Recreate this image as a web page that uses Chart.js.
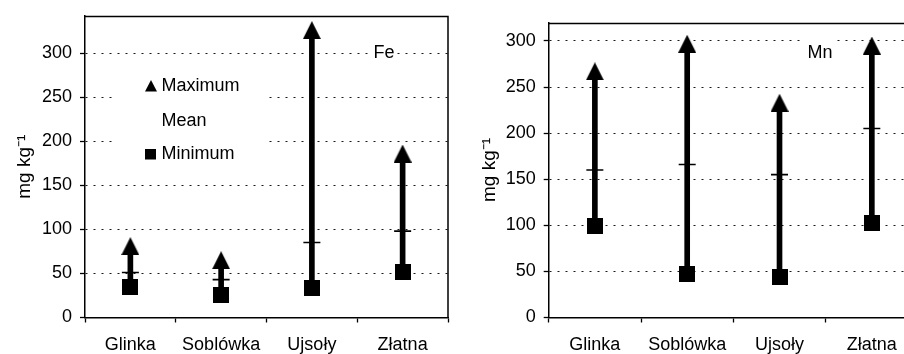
<!DOCTYPE html>
<html><head><meta charset="utf-8">
<script src="https://cdn.jsdelivr.net/npm/chart.js@4"></script>
<style>
html,body{margin:0;padding:0;background:#fff;overflow:hidden;width:904px;height:354px;}
#wrap{position:relative;width:904px;height:354px;overflow:hidden;background:#fff;}
.box{position:absolute;top:0;height:354px;}
#b1{left:0;width:452px;}
#b2{left:452px;width:470px;}
</style></head><body>
<div id="wrap"><div class="box" id="b1"><canvas id="fe"></canvas></div><div class="box" id="b2"><canvas id="mn"></canvas></div></div>
<script>
// ---- data ----
const categories = ['Glinka', 'Soblówka', 'Ujsoły', 'Złatna'];
const feMax  = [81, 65, 326, 186];
const feMean = [51, 43, 85, 98];
const feMin  = [35, 25, 34, 52];
const mnMax  = [267, 297, 233, 295];
const mnMean = [160, 166, 155, 205];
const mnMin  = [99, 47, 44, 102];
const yTickValues = [0, 50, 100, 150, 200, 250, 300];
const seriesLabels = ['Maximum', 'Mean', 'Minimum'];
const yTitle = 'mg kg\u207B\u00B9';
const elementLabels = ['Fe', 'Mn'];

const FONT = '"Liberation Sans", Arial, Helvetica, sans-serif';
Chart.defaults.font.family = FONT;
Chart.defaults.font.size = 18;
Chart.defaults.color = '#000';

function makeTriangle(w, h) {
  const c = document.createElement('canvas'); c.width = w; c.height = h;
  const g = c.getContext('2d'); g.fillStyle = '#000';
  g.beginPath(); g.moveTo(w / 2, 0); g.lineTo(w, h); g.lineTo(0, h); g.closePath(); g.fill();
  return c;
}
function makeSquare(s) {
  const c = document.createElement('canvas'); c.width = s; c.height = s;
  const g = c.getContext('2d'); g.fillStyle = '#000'; g.fillRect(0, 0, s, s);
  return c;
}
const triImg = makeTriangle(18, 18);
const sqImg = makeSquare(16);

const framePlugin = {
  id: 'frame',
  afterDatasetsDraw(chart) {
    const a = chart.chartArea, ctx = chart.ctx;
    ctx.save(); ctx.strokeStyle = '#000'; ctx.lineWidth = 1.5;
    ctx.beginPath();
    ctx.moveTo(a.left, Math.round(a.top) + 0.5);
    ctx.lineTo(a.right, Math.round(a.top) + 0.5);
    ctx.lineTo(a.right, a.bottom);
    ctx.stroke(); ctx.restore();
  }
};

const innerLegend = {
  id: 'innerLegend',
  afterDatasetsDraw(chart, args, opts) {
    if (!opts || !opts.display) return;
    const ctx = chart.ctx;
    ctx.save();
    ctx.fillStyle = '#fff';
    ctx.fillRect(opts.box[0], opts.box[1], opts.box[2], opts.box[3]);
    ctx.fillStyle = '#000';
    ctx.font = '18px ' + FONT;
    ctx.textBaseline = 'middle';
    ctx.textAlign = 'left';
    const items = chart.data.datasets.filter(d => d.legendSymbol);
    items.forEach((d, i) => {
      const y = opts.rows[i];
      const sx = opts.symbolX;
      if (d.legendSymbol === 'triangle') {
        ctx.beginPath(); ctx.moveTo(sx + 6, y - 6); ctx.lineTo(sx + 12, y + 5.5); ctx.lineTo(sx, y + 5.5); ctx.closePath(); ctx.fill();
      } else if (d.legendSymbol === 'square') {
        ctx.fillRect(sx, y - 5, 11, 10.5);
      }
      ctx.fillText(d.label, opts.textX, y);
    });
    ctx.restore();
  }
};

const elementLabel = {
  id: 'elementLabel',
  afterDatasetsDraw(chart, args, opts) {
    if (!opts || !opts.text) return;
    const ctx = chart.ctx;
    ctx.save();
    ctx.fillStyle = '#fff';
    ctx.fillRect(opts.box[0], opts.box[1], opts.box[2], opts.box[3]);
    ctx.fillStyle = '#000';
    ctx.font = '18px ' + FONT;
    ctx.textBaseline = 'middle'; ctx.textAlign = 'center';
    ctx.fillText(opts.text, opts.x, opts.y);
    ctx.restore();
  }
};

function build(canvasId, maxArr, meanArr, minArr, yMax, yAxisWidth, titlePad, topPad, legendOpts, labelOpts) {
  return new Chart(document.getElementById(canvasId), {
    type: 'bar',
    data: {
      labels: categories,
      datasets: [
        { type: 'line', label: seriesLabels[0], legendSymbol: 'triangle', data: maxArr, showLine: false,
          pointStyle: triImg, pointRadius: 9, order: 1 },
        { type: 'line', label: seriesLabels[1], legendSymbol: 'none', data: meanArr, showLine: false,
          pointStyle: 'line', pointRadius: 8.5, pointBorderWidth: 1.6, pointBorderColor: '#000', borderColor: '#000', order: 2 },
        { type: 'line', label: seriesLabels[2], legendSymbol: 'square', data: minArr, showLine: false,
          pointStyle: sqImg, pointRadius: 8, order: 3 },
        { type: 'bar', label: 'range', data: minArr.map((v, i) => [v, maxArr[i]]),
          backgroundColor: '#000', borderWidth: 0, barThickness: 5, order: 10 }
      ]
    },
    options: {
      responsive: true, maintainAspectRatio: false, animation: false, devicePixelRatio: 1,
      layout: { padding: { left: 0, right: 4, top: topPad, bottom: 0 }, autoPadding: false },
      events: [],
      plugins: {
        legend: { display: false }, tooltip: { enabled: false },
        innerLegend: legendOpts, elementLabel: labelOpts
      },
      scales: {
        x: {
          offset: true,
          grid: { display: true, offset: true, drawOnChartArea: false, drawTicks: true, tickLength: 5, tickColor: '#000', tickWidth: 1.3 },
          border: { display: true, color: '#000', width: 1.5 },
          ticks: { padding: 12, color: '#000', font: { size: 18 }, maxRotation: 0, autoSkip: false },
          afterFit(s) { s.height = 36.5; s.paddingLeft = 0; s.paddingRight = 0; }
        },
        y: {
          min: 0, max: yMax,
          afterBuildTicks(s) { s.ticks = yTickValues.map(v => ({ value: v })); },
          grid: { color: '#1a1a1a', lineWidth: 1, drawTicks: true, tickLength: 5, tickColor: '#000', tickWidth: 1.3 },
          border: { display: true, color: '#000', width: 1.5, dash: [2, 6] },
          ticks: { padding: 8, color: '#000', font: { size: 18 } },
          title: { display: true, text: yTitle, color: '#000', font: { size: 19 }, padding: { top: titlePad, bottom: 0 } },
          afterFit(s) { s.width = yAxisWidth; s.paddingTop = 0; s.paddingBottom = 0; }
        }
      }
    },
    plugins: [framePlugin, innerLegend, elementLabel]
  });
}

build('fe', feMax, feMean, feMin, 342, 85, 13.6, 16,
  { display: true, box: [113, 62, 154, 108], rows: [86, 121, 154], symbolX: 145, textX: 161.5 },
  { text: elementLabels[0], x: 384, y: 53, box: [370, 43, 27, 20] });
build('mn', mnMax, mnMean, mnMin, 320, 96.7, 26.6, 22.5,
  { display: false },
  { text: elementLabels[1], x: 368, y: 53.5, box: [351, 37, 32, 28] });
</script>
</body></html>
